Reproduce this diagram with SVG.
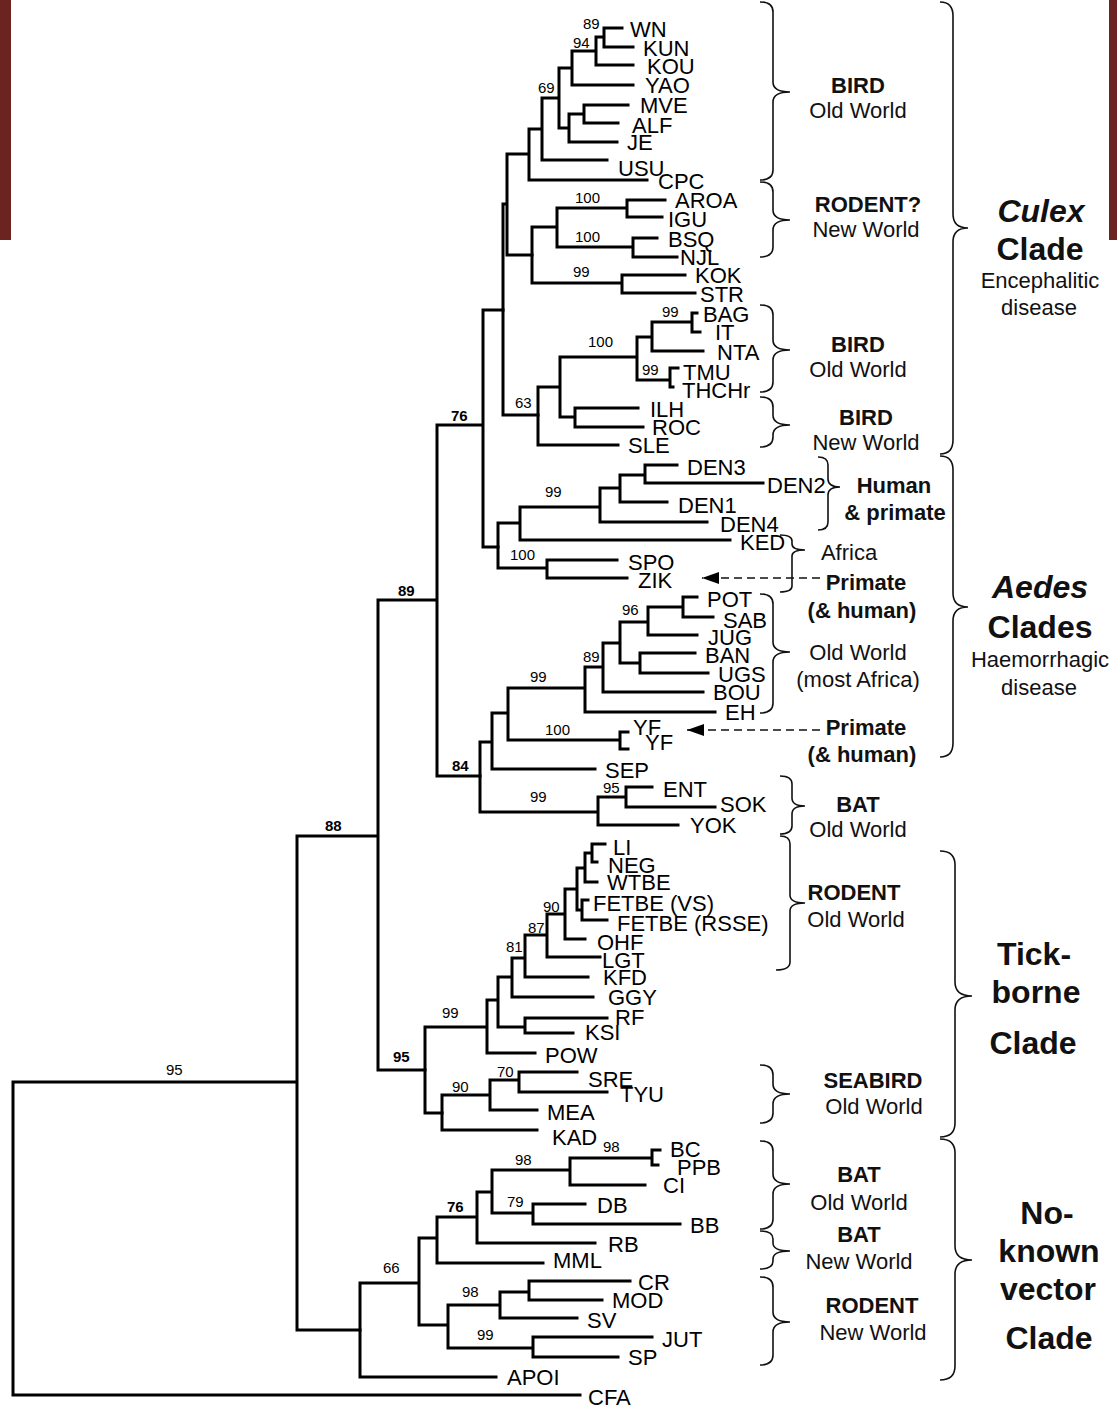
<svg xmlns="http://www.w3.org/2000/svg" width="1117" height="1408" viewBox="0 0 1117 1408">
<defs>
<style>
.t{fill:none;stroke:#000;stroke-width:3;stroke-linecap:square}
.br{fill:none;stroke:#111;stroke-width:1.6}
.lf{font-family:"Liberation Sans",Arial,sans-serif;font-size:22px;fill:#000}
.bs{font-family:"Liberation Sans",Arial,sans-serif;font-size:15px;fill:#000}
.bb{font-family:"Liberation Sans",Arial,sans-serif;font-size:15px;font-weight:bold;fill:#000}
.an{font-family:"Liberation Sans",Arial,sans-serif;font-size:22px;fill:#111;text-anchor:middle}
.ab{font-family:"Liberation Sans",Arial,sans-serif;font-size:22px;font-weight:bold;fill:#111;text-anchor:middle}
.cl{font-family:"Liberation Sans",Arial,sans-serif;font-size:32px;font-weight:bold;fill:#111;text-anchor:middle}
.da{fill:none;stroke:#111;stroke-width:1.6;stroke-dasharray:8 5}
</style>
<marker id="ah" viewBox="0 0 17 12" refX="17" refY="6" markerWidth="17" markerHeight="12" markerUnits="userSpaceOnUse" orient="auto">
<path d="M0 0 L17 6 L0 12 Z" fill="#000"/>
</marker>
</defs>
<rect width="1117" height="1408" fill="#fff"/>
<rect x="0" y="0" width="11" height="240" fill="#6b2420"/>
<rect x="1109" y="0" width="8" height="240" fill="#6b2420"/>

<g id="connectors">
<path class="t" d="M13 1082V1395M13 1082H297M13 1395H580M297 836V1330M297 836H378M297 1330H360M378 600V1070M378 600H437M378 1070H425M437 425V776M437 425H483M437 776H480M483 310V547M483 310H503M483 547H498"/>
<path class="t" d="M503 204V415M503 204H507M503 415H538M507 154V255M507 154H529M507 255H532M529 129V180M529 129H542M529 180H647M542 98V160M542 98H559M542 160H607M559 68V128M559 68H572M559 128H569M572 51V85M572 51H596M572 85H633M596 37V65M596 37H604M596 65H633M604 28V47M604 28H622M604 47H633M569 114V142M569 114H584M569 142H617M584 105V123M584 105H628M584 123H618"/>
<path class="t" d="M532 227V283M532 227H557M532 283H622M557 208V247M557 208H627M557 247H633M627 200V217M627 200H665M627 217H662M633 238V257M633 238H657M633 257H677M622 275V293M622 275H685M622 293H695"/>
<path class="t" d="M538 387V445M538 387H560M538 445H618M560 357V417M560 357H637M560 417H575M637 337V380M637 337H652M637 380H670M652 322V351M652 322H692M652 351H703M692 313V332M692 313H697M692 332H700M670 368V387M670 368H678M670 387H673M575 408V427M575 408H638M575 427H643"/>
<path class="t" d="M498 523V568M498 523H520M498 568H547M520 507V540M520 507H600M520 540H730M600 488V522M600 488H620M600 522H707M620 475V502M620 475H645M620 502H667M645 465V483M645 465H677M645 483H763M547 560V578M547 560H617M547 578H627"/>
<path class="t" d="M480 742V812M480 742H492M480 812H598M492 713V769M492 713H508M492 769H595M508 688V740M508 688H585M508 740H620M620 732V749M620 732H628M620 749H628M585 667V712M585 667H603M585 712H715M603 643V692M603 643H620M603 692H703M620 622V663M620 622H648M620 663H640M648 607V635M648 607H683M648 635H697M683 597V617M683 597H697M683 617H713M640 653V673M640 653H695M640 673H708M598 797V825M598 797H626M598 825H678M626 787V807M626 787H652M626 807H715"/>
<path class="t" d="M425 1027V1113M425 1027H487M425 1113H442M487 1000V1053M487 1000H498M487 1053H535M498 977V1027M498 977H512M498 1027H525M525 1018V1033M525 1018H607M525 1033H573M512 958V997M512 958H525M512 997H593M525 935V977M525 935H547M525 977H588M547 914V957M547 914H565M547 957H600M565 889V939M565 889H577M565 939H585M577 868V910M577 868H585M577 910H582M585 853V882M585 853H592M585 882H597M592 844V862M592 844H605M592 862H597M582 900V920M582 900H588M582 920H607"/>
<path class="t" d="M442 1095V1130M442 1095H490M442 1130H537M490 1080V1110M490 1080H519M490 1110H537M519 1072V1092M519 1072H577M519 1092H607"/>
<path class="t" d="M360 1283V1377M360 1283H419M360 1377H496M419 1238V1325M419 1238H437M419 1325H448M437 1217V1263M437 1217H477M437 1263H543M477 1192V1243M477 1192H492M477 1243H595M492 1170V1213M492 1170H570M492 1213H533M570 1158V1185M570 1158H652M570 1185H645M652 1150V1165M652 1150H660M652 1165H658M533 1204V1224M533 1204H585M533 1224H680M448 1305V1348M448 1305H500M448 1348H533M500 1292V1318M500 1292H529M500 1318H577M529 1281V1300M529 1281H630M529 1300H602M533 1337V1357M533 1337H652M533 1357H618"/>
<path class="da" d="M820 578H702" marker-end="url(#ah)"/>
<path class="da" d="M820 730H687" marker-end="url(#ah)"/>
</g>

<g id="bootstrap">
<text class="bs" x="583" y="29">89</text>
<text class="bs" x="573" y="48">94</text>
<text class="bs" x="538" y="93">69</text>
<text class="bs" x="575" y="203">100</text>
<text class="bs" x="575" y="242">100</text>
<text class="bs" x="573" y="277">99</text>
<text class="bs" x="662" y="317">99</text>
<text class="bs" x="588" y="347">100</text>
<text class="bs" x="642" y="375">99</text>
<text class="bs" x="515" y="408">63</text>
<text class="bb" x="451" y="421">76</text>
<text class="bs" x="545" y="497">99</text>
<text class="bs" x="510" y="560">100</text>
<text class="bb" x="398" y="596">89</text>
<text class="bs" x="622" y="615">96</text>
<text class="bs" x="583" y="662">89</text>
<text class="bs" x="530" y="682">99</text>
<text class="bs" x="545" y="735">100</text>
<text class="bb" x="452" y="771">84</text>
<text class="bs" x="603" y="793">95</text>
<text class="bs" x="530" y="802">99</text>
<text class="bb" x="325" y="831">88</text>
<text class="bs" x="543" y="912">90</text>
<text class="bs" x="528" y="933">87</text>
<text class="bs" x="506" y="952">81</text>
<text class="bs" x="442" y="1018">99</text>
<text class="bb" x="393" y="1062">95</text>
<text class="bs" x="166" y="1075">95</text>
<text class="bs" x="497" y="1077">70</text>
<text class="bs" x="452" y="1092">90</text>
<text class="bs" x="603" y="1152">98</text>
<text class="bs" x="515" y="1165">98</text>
<text class="bs" x="507" y="1207">79</text>
<text class="bb" x="447" y="1212">76</text>
<text class="bs" x="383" y="1273">66</text>
<text class="bs" x="462" y="1297">98</text>
<text class="bs" x="477" y="1340">99</text>
</g>

<g id="leaf-WN"><text class="lf" x="630" y="37">WN</text></g>
<g id="leaf-KUN"><text class="lf" x="643" y="56">KUN</text></g>
<g id="leaf-KOU"><text class="lf" x="647" y="74">KOU</text></g>
<g id="leaf-YAO"><text class="lf" x="645" y="93">YAO</text></g>
<g id="leaf-MVE"><text class="lf" x="640" y="113">MVE</text></g>
<g id="leaf-ALF"><text class="lf" x="632" y="133">ALF</text></g>
<g id="leaf-JE"><text class="lf" x="627" y="150">JE</text></g>
<g id="leaf-USU"><text class="lf" x="618" y="176">USU</text></g>
<g id="leaf-CPC"><text class="lf" x="658" y="189">CPC</text></g>
<g id="leaf-AROA"><text class="lf" x="675" y="208">AROA</text></g>
<g id="leaf-IGU"><text class="lf" x="668" y="227">IGU</text></g>
<g id="leaf-BSQ"><text class="lf" x="668" y="247">BSQ</text></g>
<g id="leaf-NJL"><text class="lf" x="680" y="265">NJL</text></g>
<g id="leaf-KOK"><text class="lf" x="695" y="283">KOK</text></g>
<g id="leaf-STR"><text class="lf" x="700" y="302">STR</text></g>
<g id="leaf-BAG"><text class="lf" x="703" y="322">BAG</text></g>
<g id="leaf-IT"><text class="lf" x="715" y="340">IT</text></g>
<g id="leaf-NTA"><text class="lf" x="717" y="360">NTA</text></g>
<g id="leaf-TMU"><text class="lf" x="683" y="380">TMU</text></g>
<g id="leaf-THCHr"><text class="lf" x="682" y="398">THCHr</text></g>
<g id="leaf-ILH"><text class="lf" x="650" y="417">ILH</text></g>
<g id="leaf-ROC"><text class="lf" x="652" y="435">ROC</text></g>
<g id="leaf-SLE"><text class="lf" x="628" y="453">SLE</text></g>
<g id="leaf-DEN3"><text class="lf" x="687" y="475">DEN3</text></g>
<g id="leaf-DEN2"><text class="lf" x="767" y="493">DEN2</text></g>
<g id="leaf-DEN1"><text class="lf" x="678" y="513">DEN1</text></g>
<g id="leaf-DEN4"><text class="lf" x="720" y="532">DEN4</text></g>
<g id="leaf-KED"><text class="lf" x="740" y="550">KED</text></g>
<g id="leaf-SPO"><text class="lf" x="628" y="570">SPO</text></g>
<g id="leaf-ZIK"><text class="lf" x="638" y="588">ZIK</text></g>
<g id="leaf-POT"><text class="lf" x="707" y="607">POT</text></g>
<g id="leaf-SAB"><text class="lf" x="723" y="628">SAB</text></g>
<g id="leaf-JUG"><text class="lf" x="708" y="645">JUG</text></g>
<g id="leaf-BAN"><text class="lf" x="705" y="663">BAN</text></g>
<g id="leaf-UGS"><text class="lf" x="718" y="682">UGS</text></g>
<g id="leaf-BOU"><text class="lf" x="713" y="700">BOU</text></g>
<g id="leaf-EH"><text class="lf" x="725" y="720">EH</text></g>
<g id="leaf-YF1"><text class="lf" x="633" y="735">YF</text></g>
<g id="leaf-YF2"><text class="lf" x="645" y="750">YF</text></g>
<g id="leaf-SEP"><text class="lf" x="605" y="778">SEP</text></g>
<g id="leaf-ENT"><text class="lf" x="663" y="797">ENT</text></g>
<g id="leaf-SOK"><text class="lf" x="720" y="812">SOK</text></g>
<g id="leaf-YOK"><text class="lf" x="690" y="833">YOK</text></g>
<g id="leaf-LI"><text class="lf" x="613" y="855">LI</text></g>
<g id="leaf-NEG"><text class="lf" x="608" y="873">NEG</text></g>
<g id="leaf-WTBE"><text class="lf" x="607" y="890">WTBE</text></g>
<g id="leaf-FETBE-VS"><text class="lf" x="593" y="911">FETBE (VS)</text></g>
<g id="leaf-FETBE-RSSE"><text class="lf" x="617" y="931">FETBE (RSSE)</text></g>
<g id="leaf-OHF"><text class="lf" x="597" y="950">OHF</text></g>
<g id="leaf-LGT"><text class="lf" x="602" y="968">LGT</text></g>
<g id="leaf-KFD"><text class="lf" x="603" y="985">KFD</text></g>
<g id="leaf-GGY"><text class="lf" x="608" y="1005">GGY</text></g>
<g id="leaf-RF"><text class="lf" x="615" y="1025">RF</text></g>
<g id="leaf-KSI"><text class="lf" x="585" y="1040">KSI</text></g>
<g id="leaf-POW"><text class="lf" x="545" y="1063">POW</text></g>
<g id="leaf-SRE"><text class="lf" x="588" y="1087">SRE</text></g>
<g id="leaf-TYU"><text class="lf" x="620" y="1102">TYU</text></g>
<g id="leaf-MEA"><text class="lf" x="547" y="1120">MEA</text></g>
<g id="leaf-KAD"><text class="lf" x="552" y="1145">KAD</text></g>
<g id="leaf-BC"><text class="lf" x="670" y="1157">BC</text></g>
<g id="leaf-PPB"><text class="lf" x="677" y="1175">PPB</text></g>
<g id="leaf-CI"><text class="lf" x="663" y="1193">CI</text></g>
<g id="leaf-DB"><text class="lf" x="597" y="1213">DB</text></g>
<g id="leaf-BB"><text class="lf" x="690" y="1233">BB</text></g>
<g id="leaf-RB"><text class="lf" x="608" y="1252">RB</text></g>
<g id="leaf-MML"><text class="lf" x="553" y="1268">MML</text></g>
<g id="leaf-CR"><text class="lf" x="638" y="1290">CR</text></g>
<g id="leaf-MOD"><text class="lf" x="612" y="1308">MOD</text></g>
<g id="leaf-SV"><text class="lf" x="587" y="1328">SV</text></g>
<g id="leaf-JUT"><text class="lf" x="662" y="1347">JUT</text></g>
<g id="leaf-SP"><text class="lf" x="628" y="1365">SP</text></g>
<g id="leaf-APOI"><text class="lf" x="507" y="1385">APOI</text></g>
<g id="leaf-CFA"><text class="lf" x="588" y="1405">CFA</text></g>

<g id="braces">
<path class="br" d="M760 2Q773 2 773 12V82Q773 92 790 92Q773 92 773 102V170Q773 180 760 180"/>
<path class="br" d="M760 182Q773 182 773 192V210Q773 220 790 220Q773 220 773 230V247Q773 257 760 257"/>
<path class="br" d="M760 305Q773 305 773 315V340Q773 350 790 350Q773 350 773 360V382Q773 392 760 392"/>
<path class="br" d="M760 397Q773 397 773 407V415Q773 425 790 425Q773 425 773 435V437Q773 447 760 447"/>
<path class="br" d="M940 2Q953 2 953 16V214Q953 228 968 228Q953 228 953 242V440Q953 454 940 454"/>
<path class="br" d="M818 457Q828 457 828 465V479Q828 487 840 487Q828 487 828 495V522Q828 530 818 530"/>
<path class="br" d="M780 535Q792 535 792 541V544Q792 550 805 550Q792 550 792 556V586Q792 592 780 592"/>
<path class="br" d="M760 594Q773 594 773 604V642Q773 652 790 652Q773 652 773 662V703Q773 713 760 713"/>
<path class="br" d="M940 456Q953 456 953 470V593Q953 607 968 607Q953 607 953 621V743Q953 757 940 757"/>
<path class="br" d="M780 776Q792 776 792 784V798Q792 806 805 806Q792 806 792 814V826Q792 834 780 834"/>
<path class="br" d="M780 836Q790 836 790 844V895Q790 903 805 903Q790 903 790 911V962Q790 970 776 970"/>
<path class="br" d="M940 851Q955 851 955 865V982Q955 996 972 996Q955 996 955 1010V1123Q955 1137 940 1137"/>
<path class="br" d="M760 1065Q773 1065 773 1075V1084Q773 1094 790 1094Q773 1094 773 1104V1113Q773 1123 760 1123"/>
<path class="br" d="M760 1141Q773 1141 773 1151V1174Q773 1184 790 1184Q773 1184 773 1194V1219Q773 1229 760 1229"/>
<path class="br" d="M760 1231Q773 1231 773 1239V1243Q773 1251 790 1251Q773 1251 773 1259V1261Q773 1269 760 1269"/>
<path class="br" d="M760 1277Q773 1277 773 1287V1312Q773 1322 790 1322Q773 1322 773 1332V1355Q773 1365 760 1365"/>
<path class="br" d="M940 1139Q955 1139 955 1153V1246Q955 1260 972 1260Q955 1260 955 1274V1366Q955 1380 940 1380"/>
</g>

<g id="group-bird-ow-1"><text class="ab" x="858" y="93">BIRD</text><text class="an" x="858" y="118">Old World</text></g>
<g id="group-rodent-nw"><text class="ab" x="868" y="212">RODENT?</text><text class="an" x="866" y="237">New World</text></g>
<g id="group-bird-ow-2"><text class="ab" x="858" y="352">BIRD</text><text class="an" x="858" y="377">Old World</text></g>
<g id="group-bird-nw"><text class="ab" x="866" y="425">BIRD</text><text class="an" x="866" y="450">New World</text></g>
<g id="clade-culex"><text class="cl" x="1041" y="222" font-style="italic">Culex</text><text class="cl" x="1040" y="260">Clade</text><text class="an" x="1040" y="288">Encephalitic</text><text class="an" x="1039" y="315">disease</text></g>
<g id="group-human"><text class="ab" x="894" y="493">Human</text><text class="ab" x="895" y="520">&amp; primate</text></g>
<g id="group-africa"><text class="an" x="849" y="560">Africa</text></g>
<g id="group-primate-1"><text class="ab" x="866" y="590">Primate</text><text class="ab" x="862" y="618">(&amp; human)</text></g>
<g id="group-ow-africa"><text class="an" x="858" y="660">Old World</text><text class="an" x="858" y="687">(most Africa)</text></g>
<g id="group-primate-2"><text class="ab" x="866" y="735">Primate</text><text class="ab" x="862" y="762">(&amp; human)</text></g>
<g id="clade-aedes"><text class="cl" x="1040" y="598" font-style="italic">Aedes</text><text class="cl" x="1040" y="638">Clades</text><text class="an" x="1040" y="667">Haemorrhagic</text><text class="an" x="1039" y="695">disease</text></g>
<g id="group-bat-ow-1"><text class="ab" x="858" y="812">BAT</text><text class="an" x="858" y="837">Old World</text></g>
<g id="group-rodent-ow"><text class="ab" x="854" y="900">RODENT</text><text class="an" x="856" y="927">Old World</text></g>
<g id="clade-tick"><text class="cl" x="1034" y="965">Tick-</text><text class="cl" x="1036" y="1003">borne</text><text class="cl" x="1033" y="1054">Clade</text></g>
<g id="group-seabird"><text class="ab" x="873" y="1088">SEABIRD</text><text class="an" x="874" y="1114">Old World</text></g>
<g id="group-bat-ow-2"><text class="ab" x="859" y="1182">BAT</text><text class="an" x="859" y="1210">Old World</text></g>
<g id="group-bat-nw"><text class="ab" x="859" y="1242">BAT</text><text class="an" x="859" y="1269">New World</text></g>
<g id="group-rodent-nw-2"><text class="ab" x="872" y="1313">RODENT</text><text class="an" x="873" y="1340">New World</text></g>
<g id="clade-noknown"><text class="cl" x="1047" y="1224">No-</text><text class="cl" x="1049" y="1262">known</text><text class="cl" x="1048" y="1300">vector</text><text class="cl" x="1049" y="1349">Clade</text></g>
</svg>
